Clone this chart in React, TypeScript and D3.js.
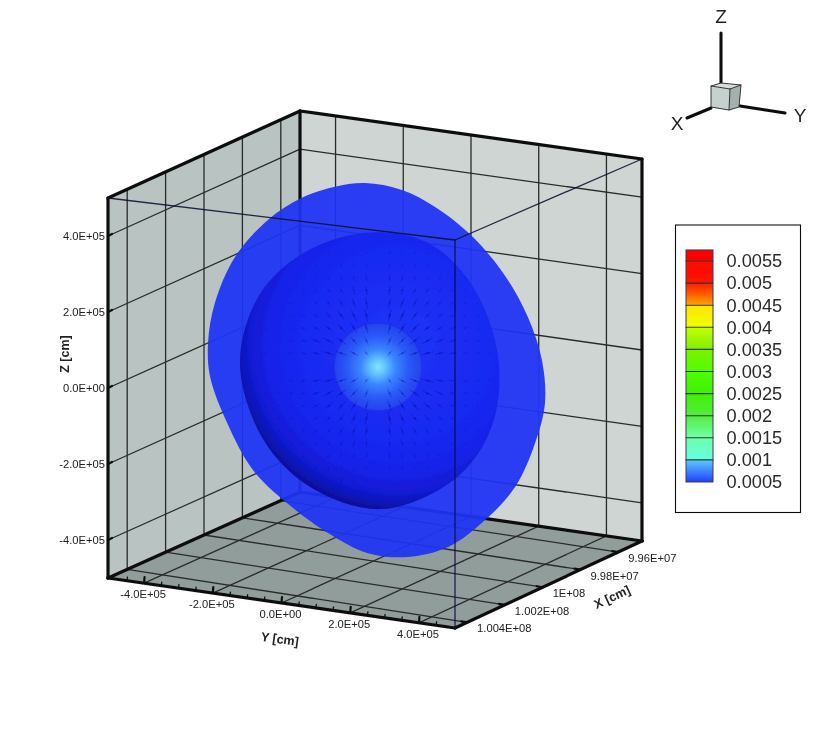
import React, { useEffect, useRef } from 'react';
import * as d3 from 'd3';

const yTicks = [-400000, -200000, 0, 200000, 400000];
const yTickLabels = ['-4.0E+05', '-2.0E+05', '0.0E+00', '2.0E+05', '4.0E+05'];
const yMinorTicks = [-450000, -350000, -300000, -250000, -150000, -100000, -50000, 50000, 100000, 150000, 250000, 300000, 350000, 450000];
const zTicks = [400000, 200000, 0, -200000, -400000];
const zTickLabels = ['4.0E+05', '2.0E+05', '0.0E+00', '-2.0E+05', '-4.0E+05'];
const xTicks = [100400000, 100200000, 100000000, 99800000, 99600000];
const xTickLabels = ['1.004E+08', '1.002E+08', '1E+08', '9.98E+07', '9.96E+07'];

const legendLevels = [0.0055, 0.005, 0.0045, 0.004, 0.0035, 0.003, 0.0025, 0.002, 0.0015, 0.001, 0.0005];
const legendLabels = ['0.0055', '0.005', '0.0045', '0.004', '0.0035', '0.003', '0.0025', '0.002', '0.0015', '0.001', '0.0005'];
const legendStopValues = [0.00575, 0.00502, 0.00452, 0.00449, 0.00402, 0.00398, 0.00352, 0.003, 0.0025, 0.002, 0.0015, 0.00102, 0.00098, 0.0005];
const legendStopColors = ['#ff0000', '#ff1400', '#ffa000', '#ffe400', '#f0ff00', '#c4ff00', '#80f000', '#50ff00', '#40f000', '#55ec40', '#70ffa8', '#62ffe4', '#5cc4ff', '#2040ff'];

// outer shell outline (units of 1E+05 cm, seen face on)
const shellY = [-0.32, 0.76, 1.74, 2.85, 3.82, 4.47, 4.88, 4.97, 4.68, 4.09, 3.21, 2.12, 0.94, -0.24, -1.41, -2.62, -3.62, -4.38, -4.88, -4.94, -4.74, -4.15, -3.18, -2.18, -1.21];
const shellZ = [4.92, 4.74, 4.29, 3.5, 2.45, 1.39, 0.26, -0.87, -1.92, -3.08, -3.95, -4.66, -4.92, -4.82, -4.29, -3.5, -2.63, -1.39, -0.18, 0.71, 1.76, 2.97, 3.95, 4.53, 4.82];

// inner surface outline
const innerY = [-0.2, 1.5, 2.85, 3.6, 3.4, 2.35, 0.2, -1.9, -3.3, -4, -3.45, -2.1];
const innerZ = [3.62, 3.36, 2.2, 0.3, -1.5, -2.85, -3.66, -3.1, -1.85, 0.15, 1.95, 3.1];

// quiver grid around the centre, and arrow length / strength against distance
const arrowGridY = [-3.3, -2.93, -2.56, -2.19, -1.82, -1.45, -1.08, -0.71, -0.34, 0.34, 0.71, 1.08, 1.45, 1.82, 2.19, 2.56, 2.93, 3.3];
const arrowGridZ = [-3, -2.67, -2.34, -2.01, -1.68, -1.35, -1.02, -0.69, -0.36, 0.36, 0.69, 1.02, 1.35, 1.68, 2.01, 2.34, 2.67, 3];
const arrowDistance = [0.4, 1.4, 2.4, 3.4];
const arrowLength = [6, 12, 6, 1.5];
const arrowOpacity = [0.22, 0.55, 0.25, 0.08];

const W = 830;
const H = 738;

type P = [number, number];
const lerp = (a: P, b: P, t: number): P => [a[0] + (b[0] - a[0]) * t, a[1] + (b[1] - a[1]) * t];

// box corners on screen
const floorFrontLeft: P = [108, 578];
const floorFront: P = [455, 628];
const floorRight: P = [642, 541];
const floorBack: P = [300, 492];
const topFrontLeft: P = [108, 198];
const topFront: P = [455, 240];
const topRight: P = [642, 159];
const topBack: P = [300, 111];

const xMin = 99474000;
const xMax = 100500000;
const yMin = -505000;
const yMax = 505000;
const zMin = -500000;
const zMax = 500000;

const yUnit = d3.scaleLinear().domain([yMin, yMax]).range([0, 1]);
const zUnit = d3.scaleLinear().domain([zMin, zMax]).range([0, 1]);
// x runs a little differently along the two sides because of the perspective
const xUnitLeft = d3.scaleLinear().domain([xMax, 99500000]).range([0, 1]).clamp(true);
const xUnitRight = d3.scaleLinear().domain([100464000, xMin]).range([0, 1]).clamp(true);

const project = (x: number, y: number, z: number): P => {
  const u = yUnit(y);
  const v = xUnitLeft(x) + (xUnitRight(x) - xUnitLeft(x)) * u;
  const w = zUnit(z);
  const low = lerp(lerp(floorFrontLeft, floorFront, u), lerp(floorBack, floorRight, u), v);
  const high = lerp(lerp(topFrontLeft, topFront, u), lerp(topBack, topRight, u), v);
  return lerp(low, high, w);
};

const App = () => {
  const svgRef = useRef<SVGSVGElement | null>(null);

  useEffect(() => {
    const root = d3.select(svgRef.current);
    root.selectAll('*').remove();
    const defs = root.append('defs');
    defs.append('filter').attr('id', 'soft').append('feGaussianBlur').attr('stdDeviation', 0.35);

    const svg = root.append('g').attr('filter', 'url(#soft)');
    const sans = '"Liberation Sans", Arial, sans-serif';

    const poly = (pts: P[], fill: string) =>
      svg.append('polygon').attr('points', pts.map(p => p.join(',')).join(' ')).attr('fill', fill);
    const seg = (a: P, b: P, width: number, color = '#2b2b2b', parent: any = svg) =>
      parent.append('line')
        .attr('x1', a[0]).attr('y1', a[1]).attr('x2', b[0]).attr('y2', b[1])
        .attr('stroke', color).attr('stroke-width', width).attr('stroke-linecap', 'round');

    // Walls and floor
    poly([floorFrontLeft, floorBack, topBack, topFrontLeft], '#b9c4c2');
    poly([floorBack, floorRight, topRight, topBack], '#ced5d3');
    poly([floorFrontLeft, floorFront, floorRight, floorBack], '#909d9b');

    // Grid lines
    xTicks.forEach(x => {
      seg(project(x, yMin, zMin), project(x, yMin, zMax), 1.3);
      seg(project(x, yMin, zMin), project(x, yMax, zMin), 1.3);
    });
    yTicks.forEach(y => {
      seg(project(xMin, y, zMin), project(xMin, y, zMax), 1.3);
      seg(project(xMin, y, zMin), project(xMax, y, zMin), 1.3);
    });
    zTicks.forEach(z => {
      seg(project(xMax, yMin, z), project(xMin, yMin, z), 1.3);
      seg(project(xMin, yMin, z), project(xMin, yMax, z), 1.3);
    });

    // Heavy box edges
    const edges: [P, P][] = [
      [topFrontLeft, floorFrontLeft], [topFrontLeft, topBack], [topBack, topRight],
      [topBack, floorBack], [topRight, floorRight], [floorFrontLeft, floorBack],
      [floorBack, floorRight], [floorFrontLeft, floorFront], [floorFront, floorRight]
    ];
    edges.forEach(([a, b]) => seg(a, b, 3.2, '#0d0d0d'));

    // Axis ticks
    yTicks.forEach((y, i) => {
      const p = project(xMax, y, zMin);
      seg(p, [p[0] + 0.5, p[1] - 6], 2.2, '#111');
      svg.append('text').attr('x', p[0] - 1).attr('y', p[1] + 15)
        .attr('text-anchor', 'middle').attr('font-family', sans).attr('font-size', 11.2)
        .attr('fill', '#222').text(yTickLabels[i]);
    });
    yMinorTicks.forEach(y => {
      const p = project(xMax, y, zMin);
      seg(p, [p[0] + 0.5, p[1] - 3.5], 1.3, '#111');
    });
    zTicks.forEach((z, i) => {
      const p = project(xMax, yMin, z);
      seg(p, [p[0] + 4, p[1] - 2], 2.2, '#111');
      svg.append('text').attr('x', p[0] - 3).attr('y', p[1] + 4)
        .attr('text-anchor', 'end').attr('font-family', sans).attr('font-size', 11.2)
        .attr('fill', '#222').text(zTickLabels[i]);
    });
    xTicks.forEach((x, i) => {
      const p = project(x, yMax, zMin);
      seg(p, [p[0] - 6, p[1] - 1], 2.2, '#111');
      svg.append('text').attr('x', p[0] + 10).attr('y', p[1] + 10)
        .attr('font-family', sans).attr('font-size', 11.2)
        .attr('fill', '#222').text(xTickLabels[i]);
    });

    // Axis titles
    const title = (text: string, x: number, y: number, angle: number) =>
      svg.append('text').attr('transform', `translate(${x},${y}) rotate(${angle})`)
        .attr('text-anchor', 'middle').attr('dy', '.35em')
        .attr('font-family', sans).attr('font-weight', 'bold').attr('font-size', 12.5)
        .attr('fill', '#222').text(text);
    title('Y [cm]', 280, 639, 8);
    title('X [cm]', 612, 597, -25);
    title('Z [cm]', 65, 354, -90);

    // Sphere, drawn face on with its own scales (px around the centre)
    const sceneY = d3.scaleLinear().domain([0, 1]).range([376, 410]);
    const sceneZ = d3.scaleLinear().domain([0, 1]).range([370, 332]);
    const blob = (ys: number[], zs: number[]) =>
      d3.line<number>()
        .x((_, i) => sceneY(ys[i]))
        .y((_, i) => sceneZ(zs[i]))
        .curve(d3.curveCatmullRomClosed.alpha(0.5))(ys);

    svg.append('path').attr('d', blob(shellY, shellZ))
      .attr('fill', '#1f34f3').attr('fill-opacity', 0.94);

    const innerGrad = defs.append('radialGradient').attr('id', 'innerGrad')
      .attr('gradientUnits', 'userSpaceOnUse')
      .attr('cx', 398).attr('cy', 345).attr('r', 172);
    [[0, '#1e34f6'], [0.6, '#1828f0'], [0.75, '#1522e8'], [0.87, '#111ad0'], [0.94, '#0c12a8'], [1, '#090c88']]
      .forEach(([o, c]) => innerGrad.append('stop').attr('offset', o as number).attr('stop-color', c as string));
    svg.append('path').attr('d', blob(innerY, innerZ)).attr('fill', 'url(#innerGrad)');

    // Small core sphere with its glow
    const coreCx = sceneY(0.06);
    const coreCy = sceneZ(0.08);
    const coreGrad = defs.append('radialGradient').attr('id', 'coreGrad');
    [[0, '#84e4ff'], [0.18, '#62c0ff'], [0.4, '#3a86ff'], [0.7, '#2a5af6'], [0.97, '#2444ee'], [1, '#1c30e6']]
      .forEach(([o, c]) => coreGrad.append('stop').attr('offset', o as number).attr('stop-color', c as string));
    svg.append('circle').attr('cx', coreCx).attr('cy', coreCy).attr('r', 44).attr('fill', 'url(#coreGrad)');

    // Quiver arrows, all radial about the core
    const lengthAt = d3.scaleLinear().domain(arrowDistance).range(arrowLength).clamp(true);
    const opacityAt = d3.scaleLinear().domain(arrowDistance).range(arrowOpacity).clamp(true);
    const arrows = svg.append('g');
    arrowGridY.forEach(gy => {
      arrowGridZ.forEach(gz => {
        const d = Math.hypot(gy, gz);
        if (d > 3.5) return;
        const px = sceneY(0.06 + gy);
        const py = sceneZ(0.08 + gz);
        const ang = Math.atan2(py - coreCy, px - coreCx);
        const len = lengthAt(d);
        const a: P = [px - Math.cos(ang) * len / 2, py - Math.sin(ang) * len / 2];
        const b: P = [px + Math.cos(ang) * len / 2, py + Math.sin(ang) * len / 2];
        seg(a, b, 0.9, '#0c10b8', arrows).attr('opacity', opacityAt(d));
        seg(lerp(a, b, 0.45), lerp(a, b, 0.6), 1.8, '#0a0ea8', arrows).attr('opacity', opacityAt(d));
      });
    });

    // Near edges of the box sit in front of the sphere
    const near = svg.append('g').attr('opacity', 0.85);
    seg(topFrontLeft, topFront, 1.3, '#0b0b30', near);
    seg(topFront, topRight, 1.3, '#0b0b30', near);
    seg(topFront, floorFront, 1.3, '#0b0b40', near);

    // Contour legend
    const legendY = d3.scaleLinear().domain([0.0005, 0.0055]).range([482, 261]);
    const legendTop = legendY(legendStopValues[0]);
    const barGrad = defs.append('linearGradient').attr('id', 'barGrad')
      .attr('x1', 0).attr('y1', 0).attr('x2', 0).attr('y2', 1);
    legendStopValues.forEach((v, i) => {
      barGrad.append('stop')
        .attr('offset', (legendY(v) - legendTop) / (legendY(0.0005) - legendTop))
        .attr('stop-color', legendStopColors[i]);
    });
    svg.append('rect').attr('x', 675.5).attr('y', 225).attr('width', 125).attr('height', 287.5)
      .attr('fill', '#fff').attr('stroke', '#111').attr('stroke-width', 1.1);
    svg.append('rect').attr('x', 686).attr('y', legendTop).attr('width', 27)
      .attr('height', legendY(0.0005) - legendTop)
      .attr('fill', 'url(#barGrad)').attr('stroke', '#3a3a5a').attr('stroke-width', 1);
    legendLevels.forEach((v, i) => {
      if (v > 0.0005) seg([686, legendY(v)], [713, legendY(v)], 1.1, '#2a3a2a');
      svg.append('text').attr('x', 726.5).attr('y', legendY(v)).attr('dy', '.35em')
        .attr('font-family', sans).attr('font-size', 18.2).attr('fill', '#2a2a2a')
        .text(legendLabels[i]);
    });

    // Orientation triad
    seg([721, 33], [721, 83], 3, '#0d0d0d');
    seg([740, 106], [785, 113], 3, '#0d0d0d');
    seg([711, 108], [687, 118], 3, '#0d0d0d');
    poly([[711, 86], [730, 89], [729, 110], [711, 107]], '#c6d0ce');
    poly([[730, 89], [741, 85], [739, 107], [729, 110]], '#a4b0ae');
    poly([[711, 86], [721, 83], [741, 85], [730, 89]], '#d6dcda');
    svg.append('polygon').attr('points', '711,86 721,83 741,85 739,107 729,110 711,107')
      .attr('fill', 'none').attr('stroke', '#222').attr('stroke-width', 0.9);
    seg([730, 89], [729, 110], 0.9, '#222');
    seg([711, 86], [730, 89], 0.9, '#222');
    seg([730, 89], [741, 85], 0.9, '#222');
    const axisLetter = (text: string, x: number, y: number) =>
      svg.append('text').attr('x', x).attr('y', y).attr('dy', '.35em').attr('text-anchor', 'middle')
        .attr('font-family', sans).attr('font-size', 19).attr('fill', '#222').text(text);
    axisLetter('Z', 721, 16);
    axisLetter('X', 677, 123);
    axisLetter('Y', 800, 115);
  }, []);

  return (
    <svg
      ref={svgRef}
      width={W}
      height={H}
      style={{ position: 'absolute', left: 0, top: 0, display: 'block', background: '#fff' }}
    />
  );
};

export default App;
